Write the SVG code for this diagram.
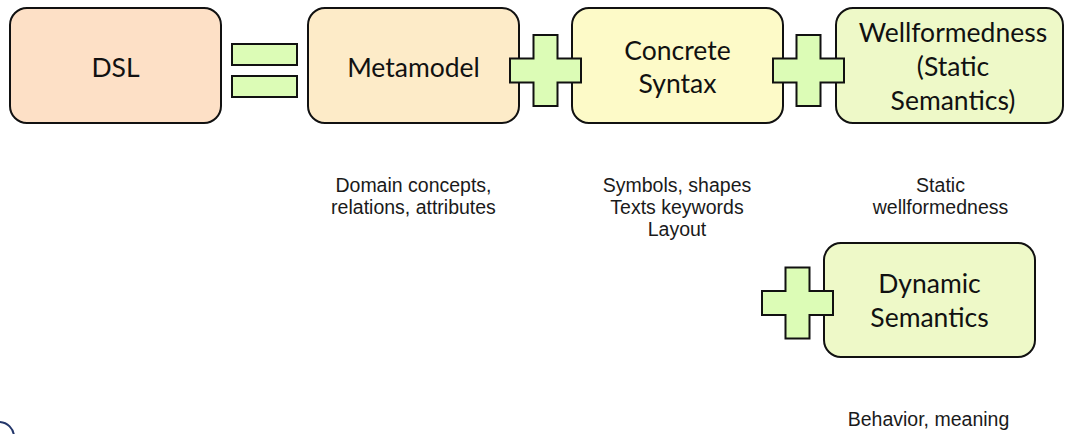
<svg xmlns="http://www.w3.org/2000/svg" xmlns:xlink="http://www.w3.org/1999/xlink" width="1065" height="434" viewBox="0 0 1065 434">
  <style>
    .box { stroke: #111; stroke-width: 2; }
    .lbl { font-family: Lato, "Open Sans", "DejaVu Sans", sans-serif; font-size: 26.5px; fill: #111; text-anchor: middle; }
    .cap { font-family: "Liberation Sans", Arial, sans-serif; font-size: 19.5px; fill: #1a1a1a; text-anchor: middle; }
    .op { fill: #dcfcb6; stroke: #111; stroke-width: 2; stroke-linejoin: miter; }
  </style>
  <defs>
    <path id="plus" d="M-12,-35.5 H12 V-12 H35.5 V12 H12 V35.5 H-12 V12 H-35.5 V-12 H-12 Z"/>
  </defs>
  <rect width="1065" height="434" fill="#ffffff"/>

  <g id="node-dsl">
    <rect class="box" x="10" y="8" width="211" height="115" rx="17" fill="#fde0c6"/>
    <text class="lbl" x="115.5" y="77">DSL</text>
  </g>
  <g id="node-metamodel">
    <rect class="box" x="308" y="8" width="211" height="115" rx="17" fill="#fdebc8"/>
    <text class="lbl" x="413.5" y="77">Metamodel</text>
    <text class="cap" x="413.5" y="192">Domain concepts,</text>
    <text class="cap" x="413.5" y="214">relations, attributes</text>
  </g>
  <g id="node-concrete-syntax">
    <rect class="box" x="572" y="8" width="211" height="115" rx="17" fill="#fdfac8"/>
    <text class="lbl" x="677.5" y="60">Concrete</text>
    <text class="lbl" x="677.5" y="93">Syntax</text>
    <text class="cap" x="677" y="192">Symbols, shapes</text>
    <text class="cap" x="677" y="214">Texts keywords</text>
    <text class="cap" x="677" y="236">Layout</text>
  </g>
  <g id="node-wellformedness">
    <rect class="box" x="836" y="8" width="227" height="115" rx="17" fill="#eef9c8"/>
    <text class="lbl" x="953" y="42">Wellformedness</text>
    <text class="lbl" x="953" y="76">(Static</text>
    <text class="lbl" x="953" y="110">Semantics)</text>
    <text class="cap" x="940.5" y="192">Static</text>
    <text class="cap" x="940.5" y="214">wellformedness</text>
  </g>
  <g id="node-dynamic-semantics">
    <rect class="box" x="824" y="243" width="211" height="114" rx="17" fill="#eef9c8"/>
    <text class="lbl" x="929.5" y="293">Dynamic</text>
    <text class="lbl" x="929.5" y="327">Semantics</text>
    <text class="cap" x="928.5" y="426">Behavior, meaning</text>
  </g>

  <g id="connectors">
    <rect class="op" x="232" y="44" width="65" height="21"/>
    <rect class="op" x="232" y="76" width="65" height="21"/>
    <use href="#plus" xlink:href="#plus" class="op" x="545.5" y="70.5"/>
    <use href="#plus" xlink:href="#plus" class="op" x="808.5" y="70.5"/>
    <use href="#plus" xlink:href="#plus" class="op" x="797.5" y="303"/>
  </g>

  <g id="corner-mark">
    <circle cx="-1" cy="437" r="15" fill="#ffffff" stroke="#23366a" stroke-width="2"/>
  </g>
</svg>
